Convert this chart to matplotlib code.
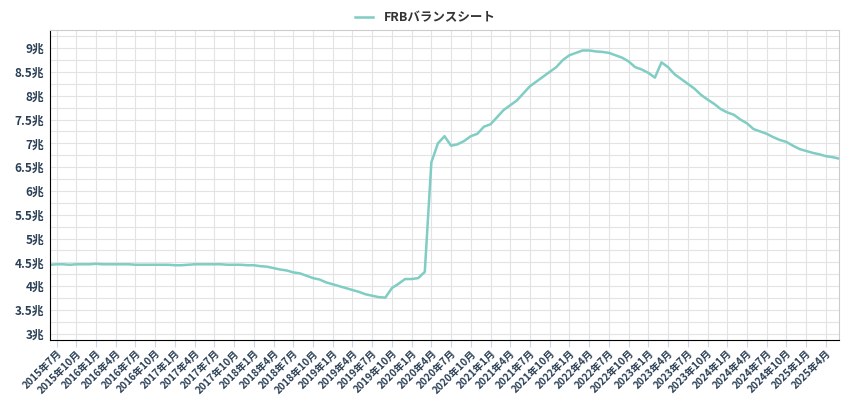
import matplotlib
matplotlib.use("Agg")
import matplotlib.pyplot as plt
import numpy as np

plt.rcParams['font.family'] = ['Noto Sans CJK JP', 'DejaVu Sans']

start_year, start_month = 2015, 6
values = [
 4.45, 4.46, 4.46, 4.45, 4.46, 4.46, 4.46, 4.47, 4.46, 4.46, 4.46, 4.46, 4.46,  # 2015-06..2016-06
 4.45, 4.45, 4.45, 4.45, 4.45, 4.45, 4.44, 4.44, 4.45, 4.46, 4.46, 4.46, 4.46,  # 2016-07..2017-07
 4.46, 4.45, 4.45, 4.45, 4.44, 4.44, 4.42, 4.41, 4.38, 4.35, 4.33, 4.29, 4.27,  # 2017-08..2018-08
 4.22, 4.17, 4.14, 4.08, 4.04, 4.0, 3.96, 3.92, 3.88, 3.83, 3.8, 3.77, 3.76,   # 2018-09..2019-09
 3.96, 4.05, 4.15, 4.15, 4.17, 4.3, 6.6, 7.0, 7.15, 6.95, 6.98, 7.05, 7.15,   # 2019-10..2020-10
 7.2, 7.35, 7.4, 7.55, 7.7, 7.8, 7.9, 8.05, 8.2, 8.3, 8.4, 8.5, 8.6,          # 2020-11..2021-11
 8.75, 8.85, 8.9, 8.95, 8.95, 8.93, 8.92, 8.9, 8.85, 8.8, 8.72, 8.6, 8.55,    # 2021-12..2022-12
 8.48, 8.38, 8.7, 8.6, 8.45, 8.35, 8.25, 8.15, 8.02, 7.92, 7.83, 7.72,        # 2023-01..2023-12
 7.65, 7.6, 7.5, 7.42, 7.3, 7.25, 7.2, 7.13, 7.07, 7.03, 6.95, 6.88,          # 2024
 6.84, 6.8, 6.77, 6.73, 6.71, 6.68,                                          # 2025-01..06
]
series_name = "FRBバランスシート"

x = np.arange(len(values))
tick_idx = list(range(1, len(values), 3))
tick_labels = []
for i in tick_idx:
    m = start_month - 1 + i
    tick_labels.append(f"{start_year + m // 12}年{m % 12 + 1}月")

y_ticks = [3, 3.5, 4, 4.5, 5, 5.5, 6, 6.5, 7, 7.5, 8, 8.5, 9]
y_labels = [f"{v:g}兆" for v in y_ticks]

fig = plt.figure(figsize=(8.5, 4.0), dpi=100)
ax = fig.add_axes([50/850, 60/400, 789/850, 310/400])
color = '#7fcdc3'
ax.plot(x, values, color=color, lw=1.8, label=series_name)
ax.set_xlim(0, len(values) - 1)
ax.set_ylim(2.87, 9.38)
ax.set_yticks(y_ticks)
ax.set_yticklabels(y_labels, fontsize=8.5, fontweight='bold', color='#2a3f55')
ax.set_xticks(tick_idx)
ax.set_xticklabels(tick_labels, rotation=45, ha='right', rotation_mode='anchor',
                   fontsize=7.3, fontweight='bold', color='#2a3f55')
ax.set_yticks(np.arange(3.25, 9.3, 0.5), minor=True)
ax.grid(True, which='both', color='#e3e3e3', lw=0.8)
ax.tick_params(axis='y', length=0, pad=4)
ax.tick_params(axis='y', which='minor', length=0)
ax.tick_params(axis='x', length=5, color='#ccd6eb', pad=1)
for s in ['top', 'right']:
    ax.spines[s].set_color('#cccccc')
for s in ['left', 'bottom']:
    ax.spines[s].set_color('black')
leg = fig.legend(loc='upper center', bbox_to_anchor=(0.5, 1.0), frameon=False,
                 handlelength=1.5, prop={'weight': 'bold', 'size': 9})
for t in leg.get_texts():
    t.set_color('#333333')
fig.savefig('out.png', dpi=100)
